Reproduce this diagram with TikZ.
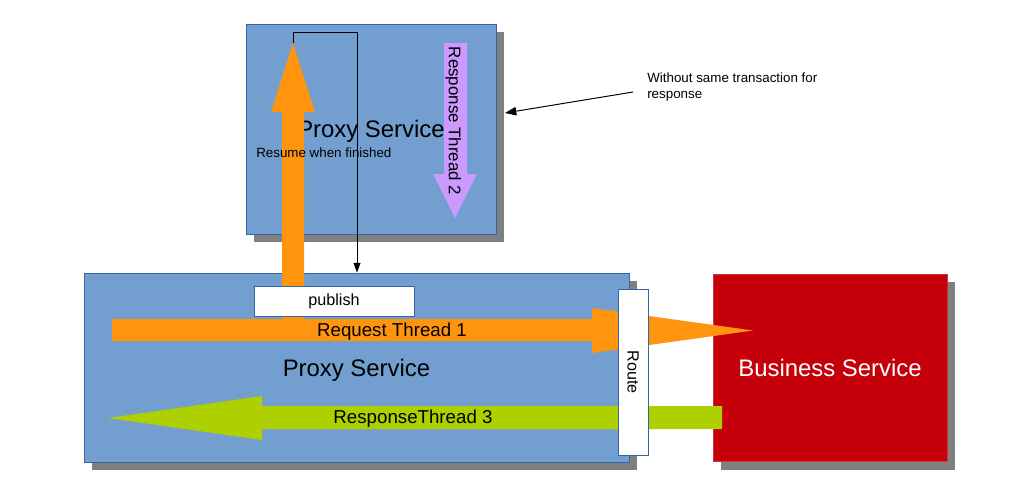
\documentclass[tikz,border=0pt]{standalone}
\usepackage{fontspec}
\setmainfont{Liberation Sans}
\usetikzlibrary{arrows.meta,shadows,positioning}
\definecolor{boxblue}{HTML}{729FCF}
\definecolor{edgeblue}{HTML}{3465A4}
\definecolor{bizred}{HTML}{C5000B}
\definecolor{threadorange}{HTML}{FF950E}
\definecolor{threadgreen}{HTML}{AECF00}
\definecolor{threadpurple}{HTML}{CC99FF}
\definecolor{shadowgray}{HTML}{808080}

\begin{document}
\begin{tikzpicture}[x=0.025cm,y=-0.025cm,
    service/.style={draw=edgeblue,fill=boxblue,line width=0.5pt,inner sep=0pt,text depth=0pt,
      drop shadow={shadow xshift=0.2cm,shadow yshift=-0.2cm,fill=shadowgray,opacity=1},
      font=\fontsize{17}{20}\selectfont},
    tag/.style={draw=edgeblue,fill=white,line width=0.5pt,inner sep=0pt,
      font=\fontsize{11.5}{14}\selectfont},
    threadlabel/.style={inner sep=0pt,text depth=0pt,font=\fontsize{13.3}{16}\selectfont},
    small/.style={inner sep=0pt,font=\fontsize{9.5}{11.4}\selectfont}]
      \useasboundingbox (0,0) rectangle (1024,496);

      \coordinate (uptip) at (293,43);
      \coordinate (turn) at (357,32);
      \coordinate (notetail) at (633,92);
      \coordinate (notehead) at (505,113);

      \node[service,minimum width=6.25cm,minimum height=5.25cm] (upproxy) at (371,129) {Proxy Service};
      \node[service,minimum width=13.625cm,minimum height=4.725cm] (lowproxy) at (356.5,367.5) {Proxy Service};
      \node[service,draw=bizred!80!white,fill=bizred,text=white,minimum width=5.85cm,minimum height=4.675cm] (business) at (830,368) {Business Service};

      \fill[threadorange] (112,319) -- (592,319) -- (592,308) -- (753,330.5) -- (592,353) -- (592,341) -- (112,341) -- cycle;
      \fill[threadgreen] (722,406) -- (262,406) -- (262,396) -- (108,418) -- (262,440) -- (262,429) -- (722,429) -- cycle;
      \fill[threadorange] (282,330) -- (282,112) -- (271,112) -- (uptip) -- (315,112) -- (304,112) -- (304,330) -- cycle;
      \fill[threadpurple] (444,43) -- (467,43) -- (467,174) -- (477,174) -- (455,218) -- (433,174) -- (444,174) -- cycle;

      \node[tag,minimum width=4.15cm,minimum height=0.75cm,rotate=-90] (route) at (633,372) {Route};
      \node[tag,minimum width=4cm,minimum height=0.75cm] (publish) at (334,301) {publish};

      \node[threadlabel] (req) at (392,330) {Request Thread 1};
      \node[threadlabel] (resp) at (413,417) {ResponseThread 3};
      \node[threadlabel,font=\fontsize{12}{14}\selectfont,rotate=-90] (resp2) at (455,121) {Response Thread 2};
      \node[small,anchor=west] (resume) at (256,153) {Resume when finished};
      \node[small,anchor=north west,align=left] (note) at (647,73) {Without same transaction for\\response};

      \draw[line width=0.7pt,-{Triangle[length=7pt,width=5pt]}] (uptip) |- (turn) -- (turn |- lowproxy.north);
      \draw[line width=0.7pt,-{Triangle[length=8pt,width=6pt]}] (notetail) -- (notehead);

\end{tikzpicture}
\end{document}
